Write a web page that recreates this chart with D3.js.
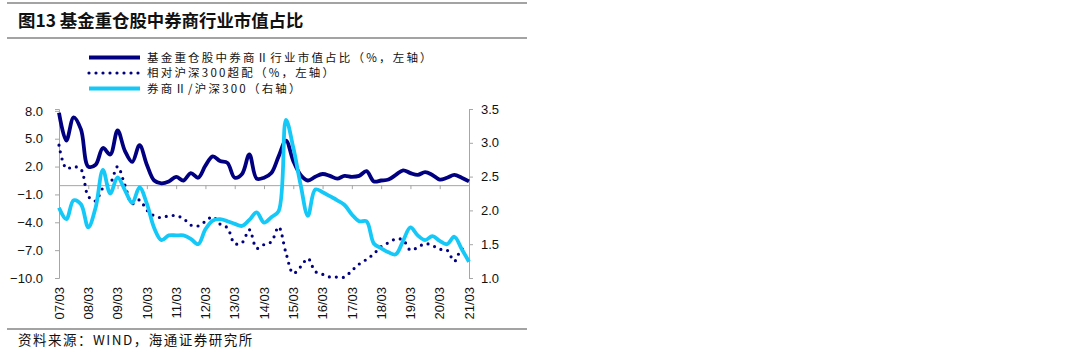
<!DOCTYPE html>
<html>
<head>
<meta charset="utf-8">
<script src="https://cdn.jsdelivr.net/npm/d3@7/dist/d3.min.js"></script>
<style>
  html, body { margin: 0; padding: 0; background: #fff; }
  svg { display: block; }
</style>
</head>
<body>
<svg id="chart" width="1080" height="356"></svg>
<script>
const categories = [
  "07/03","07/06","07/09","07/12","08/03","08/06","08/09","08/12",
  "09/03","09/06","09/09","09/12","10/03","10/06","10/09","10/12",
  "11/03","11/06","11/09","11/12","12/03","12/06","12/09","12/12",
  "13/03","13/06","13/09","13/12","14/03","14/06","14/09","14/12",
  "15/03","15/06","15/09","15/12","16/03","16/06","16/09","16/12",
  "17/03","17/06","17/09","17/12","18/03","18/06","18/09","18/12",
  "19/03","19/06","19/09","19/12","20/03","20/06","20/09","20/12",
  "21/03"
];
const tickLabels = ["07/03","08/03","09/03","10/03","11/03","12/03","13/03","14/03",
  "15/03","16/03","17/03","18/03","19/03","20/03","21/03"];
const leftTicks = [8, 5, 2, -1, -4, -7, -10];
const rightTicks = [3.5, 3.0, 2.5, 2.0, 1.5, 1.0];

// 基金重仓股中券商Ⅱ行业市值占比（%，左轴）
const holdingShare = [7.8,4.8,7.3,6.0,2.0,2.2,4.0,3.3,5.9,3.7,2.5,4.3,2.2,0.5,0.2,0.4,0.9,0.5,1.3,0.8,
  2.1,3.1,2.6,2.4,0.8,1.2,3.3,0.7,0.8,1.3,3.1,4.8,2.6,1.1,0.5,0.9,1.2,1.0,0.7,1.0,
  0.9,1.0,1.5,0.4,0.5,0.6,1.1,1.6,1.3,1.1,1.4,1.1,0.6,0.8,1.1,0.8,0.4];
// 相对沪深300超配（%，左轴）
const overweight = [4.3,1.8,2.0,1.7,-1.2,-1.7,-0.3,0.2,2.0,0.0,-2.0,-1.6,-2.7,-3.3,-3.5,-3.3,-3.3,-3.6,-4.3,-4.4,
  -3.9,-3.4,-4.2,-4.6,-6.3,-6.2,-4.8,-6.8,-6.4,-6.1,-4.5,-7.3,-9.5,-8.8,-7.9,-9.3,-9.6,-9.9,-9.9,-9.9,
  -9.2,-8.5,-8.0,-7.4,-6.6,-6.2,-5.8,-5.9,-7.0,-6.7,-6.3,-6.5,-6.9,-7.0,-8.2,-6.9,-7.1];
// 券商Ⅱ/沪深300（右轴）
const brokerRatio = [2.04,1.87,2.15,2.09,1.75,2.04,2.60,2.25,2.49,2.30,2.11,2.34,2.10,1.74,1.56,1.63,1.63,1.63,1.58,1.50,
  1.72,1.85,1.87,1.84,1.80,1.77,1.86,1.97,1.82,1.90,1.99,3.34,2.93,2.38,1.92,2.31,2.27,2.21,2.15,2.08,
  1.94,1.84,1.84,1.51,1.44,1.38,1.35,1.55,1.75,1.63,1.56,1.62,1.55,1.50,1.61,1.43,1.24];

const svg = d3.select("#chart");
const W = 1080, H = 356;
svg.append("rect").attr("width", W).attr("height", H).attr("fill", "#fff");

const plot = { left: 59, right: 469, top: 109, bottom: 278 };
const latin = "'Liberation Sans', Arial, 'Noto Sans CJK SC', sans-serif";
const cjk = "'Noto Sans CJK SC', 'Liberation Sans', sans-serif";
const ruleColor = "#a3a3a3";
const axisColor = "#a6a6a6";
const navy = "#000080";
const cyan = "#14c8f8";

// horizontal rules
[3, 38, 329].forEach(y => {
  svg.append("line").attr("x1", 7).attr("x2", 527).attr("y1", y).attr("y2", y)
    .attr("stroke", ruleColor).attr("stroke-width", 2);
});

// title
svg.append("text").attr("x", 18).attr("y", 27)
  .attr("font-family", cjk).attr("font-size", 17.4).attr("font-weight", "bold")
  .attr("fill", "#111").text("图13 基金重仓股中券商行业市值占比");

// source
svg.append("text").attr("x", 18).attr("y", 345)
  .attr("font-family", cjk).attr("font-size", 13.5).attr("letter-spacing", 1.5).attr("fill", "#111")
  .text("资料来源：WIND，海通证券研究所");

// scales
const x = d3.scalePoint().domain(categories).range([plot.left, plot.right]);
const yL = d3.scaleLinear().domain([-10, 8.2]).range([plot.bottom, plot.top]);
const yR = d3.scaleLinear().domain([1.0, 3.5]).range([plot.bottom, plot.top]);

// left axis
const leftAxis = d3.axisLeft(yL).tickValues(leftTicks).tickSize(4).tickPadding(12)
  .tickFormat(d3.format(".1f"));
const gL = svg.append("g").attr("transform", `translate(${plot.left},0)`).call(leftAxis);
gL.select(".domain").attr("stroke", axisColor);
gL.selectAll(".tick line").attr("stroke", axisColor);
gL.selectAll(".tick text").attr("font-family", latin).attr("font-size", 13).attr("fill", "#111");

// right axis
const rightAxis = d3.axisRight(yR).tickValues(rightTicks).tickSize(4).tickPadding(8)
  .tickFormat(d3.format(".1f"));
const gR = svg.append("g").attr("transform", `translate(${plot.right},0)`).call(rightAxis);
gR.select(".domain").attr("stroke", axisColor);
gR.selectAll(".tick line").attr("stroke", axisColor);
gR.selectAll(".tick text").attr("font-family", latin).attr("font-size", 13).attr("fill", "#111");

// category axis on zero line (ticks only)
const xAxis = d3.axisBottom(x).tickValues(tickLabels).tickSize(4).tickFormat("");
const gX = svg.append("g").attr("transform", `translate(0,${yL(0)})`).call(xAxis);
gX.select(".domain").attr("stroke", axisColor);
gX.selectAll(".tick line").attr("stroke", axisColor);

// category labels at bottom, rotated
svg.append("g").selectAll("text").data(tickLabels).join("text")
  .attr("transform", d => `translate(${x(d)},${plot.bottom + 9}) rotate(-90)`)
  .attr("text-anchor", "end").attr("dy", "0.36em")
  .attr("font-family", latin).attr("font-size", 13).attr("fill", "#111")
  .text(d => d);

// lines
const curve = d3.curveCatmullRom.alpha(0.5);
const lineL = d3.line().x((d, i) => x(categories[i])).y(d => yL(d)).curve(curve);
const lineR = d3.line().x((d, i) => x(categories[i])).y(d => yR(d)).curve(curve);

svg.append("path").datum(holdingShare).attr("d", lineL)
  .attr("fill", "none").attr("stroke", navy).attr("stroke-width", 3.8)
  .attr("stroke-linejoin", "round");
svg.append("path").datum(overweight).attr("d", lineL)
  .attr("fill", "none").attr("stroke", navy).attr("stroke-width", 3.2)
  .attr("stroke-linecap", "round").attr("stroke-dasharray", "0 7");
svg.append("path").datum(brokerRatio).attr("d", lineR)
  .attr("fill", "none").attr("stroke", cyan).attr("stroke-width", 3.8)
  .attr("stroke-linejoin", "round");

// legend
const legend = [
  { label: "基金重仓股中券商Ⅱ行业市值占比（%，左轴）", color: navy, dash: null, w: 4, y: 57.5 },
  { label: "相对沪深300超配（%，左轴）", color: navy, dash: "0 7", w: 3.2, y: 73 },
  { label: "券商Ⅱ/沪深300（右轴）", color: cyan, dash: null, w: 4, y: 88.5 }
];
const lg = svg.append("g");
legend.forEach(l => {
  const ln = lg.append("line").attr("x1", 89).attr("x2", 140).attr("y1", l.y).attr("y2", l.y)
    .attr("stroke", l.color).attr("stroke-width", l.w);
  if (l.dash) ln.attr("stroke-dasharray", l.dash).attr("stroke-linecap", "round");
  lg.append("text").attr("x", 147).attr("y", l.y).attr("dy", "0.36em")
    .attr("font-family", cjk).attr("font-size", 11.5).attr("letter-spacing", 2.2)
    .attr("fill", "#111").text(l.label);
});
</script>
</body>
</html>
